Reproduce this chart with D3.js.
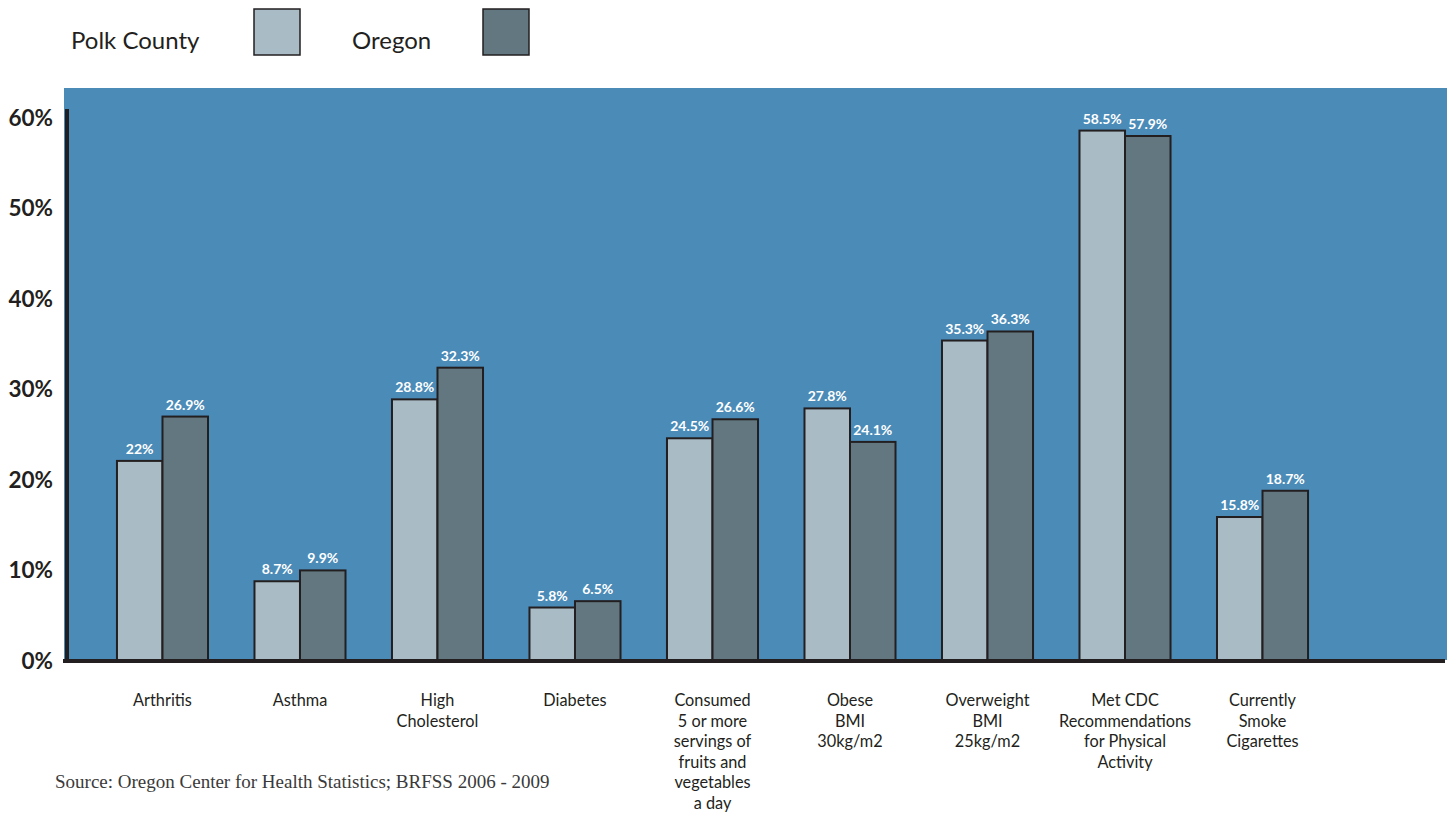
<!DOCTYPE html>
<html>
<head>
<meta charset="utf-8">
<script src="https://cdn.jsdelivr.net/npm/d3@7/dist/d3.min.js"></script>
<style>
    body { margin: 0; background: #fff; }
    svg { display: block; }
</style>
</head>
<body>
<svg id="chart"></svg>
<script>
// values (percent)
const categories = [
    'Arthritis', 'Asthma', 'High Cholesterol', 'Diabetes', 'Consumed 5 or more',
    'Obese', 'Overweight', 'Met CDC', 'Currently Smoke'
];
const categoryLines = [
    ['Arthritis'],
    ['Asthma'],
    ['High', 'Cholesterol'],
    ['Diabetes'],
    ['Consumed', '5 or more', 'servings of', 'fruits and', 'vegetables', 'a day'],
    ['Obese', 'BMI', '30kg/m2'],
    ['Overweight', 'BMI', '25kg/m2'],
    ['Met CDC', 'Recommendations', 'for Physical', 'Activity'],
    ['Currently', 'Smoke', 'Cigarettes']
];
const seriesNames = ['Polk County', 'Oregon'];
const polkValues = [22, 8.7, 28.8, 5.8, 24.5, 27.8, 35.3, 58.5, 15.8];
const oregonValues = [26.9, 9.9, 32.3, 6.5, 26.6, 24.1, 36.3, 57.9, 18.7];
const valueLabels = [
    ['22%', '8.7%', '28.8%', '5.8%', '24.5%', '27.8%', '35.3%', '58.5%', '15.8%'],
    ['26.9%', '9.9%', '32.3%', '6.5%', '26.6%', '24.1%', '36.3%', '57.9%', '18.7%']
];
const yTicks = [0, 10, 20, 30, 40, 50, 60];

const colors = {
    panel: '#4b8bb8',
    polk: '#a9bbc4',
    oregon: '#62777f',
    ink: '#231f20'
};

const width = 1450, height = 821;
const sansFont = 'Lato, "Open Sans", sans-serif';

const svg = d3.select('#chart')
    .attr('width', width)
    .attr('height', height);

const y = d3.scaleLinear().domain([0, 60]).range([660, 117]);

const x = d3.scaleBand()
    .domain(categories)
    .range([70.5, 1354.5])
    .paddingInner(0.338)
    .paddingOuter(0.338);

const xSeries = d3.scaleBand()
    .domain(seriesNames)
    .range([0, x.bandwidth()]);

// blue plotting panel
svg.append('rect')
    .attr('x', 64)
    .attr('y', 88)
    .attr('width', 1447 - 64)
    .attr('height', 660 - 88)
    .style('fill', colors.panel);

// baseline and left axis rule
svg.append('line')
    .attr('x1', 63).attr('x2', 1445)
    .attr('y1', 661).attr('y2', 661)
    .style('stroke', colors.ink)
    .style('stroke-width', 4);

svg.append('line')
    .attr('x1', 67).attr('x2', 67)
    .attr('y1', 109).attr('y2', 662)
    .style('stroke', colors.ink)
    .style('stroke-width', 4);

// y axis labels
const yAxis = svg.append('g')
    .attr('transform', 'translate(53,0)')
    .call(d3.axisLeft(y).tickValues(yTicks).tickSize(0).tickPadding(0).tickFormat((d) => d + '%'));

yAxis.select('.domain').remove();
yAxis.selectAll('text')
    .attr('dy', '0.36em')
    .style('font-family', sansFont)
    .style('font-weight', 'bold')
    .style('font-size', '22.5px')
    .style('fill', colors.ink);

// bars
const rows = categories.map((c, i) => ({
    category: c,
    values: [
        { series: seriesNames[0], value: polkValues[i], label: valueLabels[0][i] },
        { series: seriesNames[1], value: oregonValues[i], label: valueLabels[1][i] }
    ]
}));

const groups = svg.selectAll('.group')
    .data(rows).enter()
    .append('g')
    .attr('class', 'group')
    .attr('transform', (d) => `translate(${x(d.category)},0)`);

groups.selectAll('rect')
    .data((d) => d.values).enter()
    .append('rect')
    .attr('x', (d) => xSeries(d.series))
    .attr('y', (d) => y(d.value))
    .attr('width', xSeries.bandwidth())
    .attr('height', (d) => y(0) - y(d.value))
    .style('fill', (d) => d.series === seriesNames[0] ? colors.polk : colors.oregon)
    .style('stroke', colors.ink)
    .style('stroke-width', 2);

groups.selectAll('.value')
    .data((d) => d.values).enter()
    .append('text')
    .attr('class', 'value')
    .attr('x', (d) => xSeries(d.series) + xSeries.bandwidth() / 2)
    .attr('y', (d) => y(d.value) - 7)
    .attr('text-anchor', 'middle')
    .style('font-family', sansFont)
    .style('font-weight', 'bold')
    .style('font-size', '14px')
    .style('fill', '#fff')
    .text((d) => d.label);

// category labels under the axis
const catLabels = svg.selectAll('.cat')
    .data(categoryLines).enter()
    .append('text')
    .attr('class', 'cat')
    .attr('text-anchor', 'middle')
    .attr('transform', (d, i) => `translate(${x(categories[i]) + x.bandwidth() / 2},706)`)
    .style('font-family', sansFont)
    .style('font-size', '16.3px')
    .style('fill', colors.ink);

catLabels.selectAll('tspan')
    .data((d) => d).enter()
    .append('tspan')
    .attr('x', 0)
    .attr('y', (d, i) => i * 20.5)
    .text((d) => d);

// legend
const legend = [
    { name: seriesNames[0], color: colors.polk, tx: 71, sx: 254 },
    { name: seriesNames[1], color: colors.oregon, tx: 352, sx: 483 }
];

legend.forEach((l) => {
    svg.append('text')
        .attr('x', l.tx)
        .attr('y', 49)
        .style('font-family', sansFont)
        .style('font-size', '24px')
        .style('fill', colors.ink)
        .text(l.name);

    svg.append('rect')
        .attr('x', l.sx)
        .attr('y', 9)
        .attr('width', 46)
        .attr('height', 46)
        .style('fill', l.color)
        .style('stroke', colors.ink)
        .style('stroke-width', 1.5);
});

// source note
svg.append('text')
    .attr('x', 55)
    .attr('y', 788)
    .style('font-family', '"Liberation Serif", serif')
    .style('font-size', '19px')
    .style('fill', '#3a3a3a')
    .text('Source: Oregon Center for Health Statistics; BRFSS 2006 - 2009');
</script>
</body>
</html>
